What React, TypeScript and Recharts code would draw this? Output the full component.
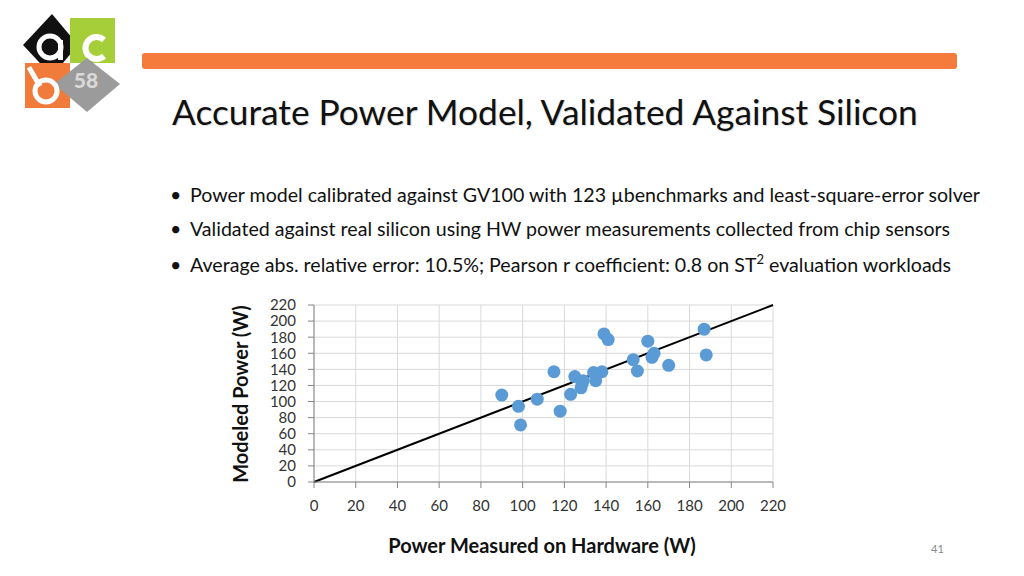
import React from 'react'
import { ScatterChart, Scatter, XAxis, YAxis, CartesianGrid, ReferenceLine } from 'recharts'

// Power measured on hardware (W) vs modeled power (W)
const measuredPower = [90, 98, 99, 107, 115, 118, 123, 125, 129, 128.5, 128, 134, 135, 138, 139, 141, 153, 155, 160, 162, 163, 170, 187, 188]
const modeledPower = [108, 94, 71, 103, 137, 88, 109, 131, 126, 122, 117, 136, 126, 137, 184, 177, 152, 138, 175, 155, 160, 145, 190, 158]
const axisTicks = [0, 20, 40, 60, 80, 100, 120, 140, 160, 180, 200, 220]
const bullets = [
  'Power model calibrated against GV100 with 123 µbenchmarks and least-square-error solver',
  'Validated against real silicon using HW power measurements collected from chip sensors',
]

const points = measuredPower.map((x, i) => ({ x, y: modeledPower[i] }))

const FONT = 'Lato, "Open Sans", sans-serif'
const tickStyle = { fontSize: 15, fill: '#333', fontFamily: FONT }

function Logo() {
  return (
    <svg width="130" height="120" style={{ position: 'absolute', left: 0, top: 0 }}>
      <polygon points="23,45 52,14 78,45 52,76" fill="#111" />
      <rect x="70" y="18" width="45" height="45" fill="#A6CE39" />
      <circle cx="50" cy="47" r="11" fill="none" stroke="#fff" strokeWidth="5" />
      <rect x="58" y="40" width="5" height="20" fill="#fff" />
      <path d="M 104 40 A 11 11 0 1 0 104 56" fill="none" stroke="#fff" strokeWidth="6" />
      <rect x="25" y="63" width="45" height="45" fill="#F07B3A" />
      <polygon points="87,58 120,84 87,112 54,84" fill="#9B9B9B" />
      <circle cx="46" cy="91" r="11" fill="none" stroke="#fff" strokeWidth="5" />
      <rect x="32" y="66" width="5" height="22" fill="#fff" transform="rotate(-30 34 77)" />
      <text x="86" y="88" textAnchor="middle" fontFamily={FONT} fontWeight="900" fontSize="21" fill="#D9D9D9">58</text>
    </svg>
  )
}

export default function App() {
  return (
    <div style={{ position: 'fixed', left: 0, top: 0, width: 1024, height: 576, background: '#fff', fontFamily: FONT, overflow: 'hidden' }}>
      <Logo />
      <div style={{ position: 'absolute', left: 142, top: 53, width: 815, height: 16, background: '#F47B3B', borderRadius: 3 }} />
      <div style={{ position: 'absolute', left: 172, top: 90, fontSize: 35.3, color: '#111', whiteSpace: 'nowrap', textShadow: '1px 1px 1px rgba(0,0,0,0.15)' }}>
        Accurate Power Model, Validated Against Silicon
      </div>

      {[...bullets, null].map((b, i) => (
        <div key={i} style={{ position: 'absolute', left: 170, top: 183 + i * 34, fontSize: 19.6, color: '#111', whiteSpace: 'nowrap' }}>
          <span style={{ display: 'inline-block', width: 20 }}>•</span>
          {b ?? (
            <>
              Average abs. relative error: 10.5%; Pearson r coefficient: 0.8 on ST<sup style={{ fontSize: 13 }}>2</sup> evaluation workloads
            </>
          )}
        </div>
      ))}

      <div style={{ position: 'absolute', left: 220, top: 290 }}>
        <ScatterChart width={580} height={230} margin={{ top: 15, right: 27, left: 30, bottom: 8 }}>
          <CartesianGrid stroke="#D9D9D9" strokeWidth={1} />
          <XAxis
            type="number"
            dataKey="x"
            domain={[0, 220]}
            ticks={axisTicks}
            interval={0}
            height={30}
            tick={tickStyle}
            tickSize={6}
            tickMargin={12}
            stroke="#868686"
          />
          <YAxis
            type="number"
            dataKey="y"
            domain={[0, 220]}
            ticks={axisTicks}
            interval={0}
            width={64}
            tick={tickStyle}
            tickSize={6}
            tickMargin={12}
            stroke="#868686"
          />
          <ReferenceLine segment={[{ x: 0, y: 0 }, { x: 220, y: 220 }]} stroke="#000" strokeWidth={2} />
          <Scatter
            data={points}
            isAnimationActive={false}
            shape={(p: any) => <circle cx={p.cx} cy={p.cy} r={6.5} fill="#5B9BD5" />}
          />
        </ScatterChart>
      </div>

      <div style={{ position: 'absolute', left: 240, top: 394, transform: 'translate(-50%, -50%) rotate(-90deg)', fontSize: 20, fontWeight: 700, color: '#111', whiteSpace: 'nowrap' }}>
        Modeled Power (W)
      </div>
      <div style={{ position: 'absolute', left: 542, top: 545, transform: 'translate(-50%, -50%)', fontSize: 20, fontWeight: 700, color: '#111', whiteSpace: 'nowrap' }}>
        Power Measured on Hardware (W)
      </div>
      <div style={{ position: 'absolute', left: 931, top: 542, fontSize: 11, color: '#888' }}>41</div>
    </div>
  )
}
